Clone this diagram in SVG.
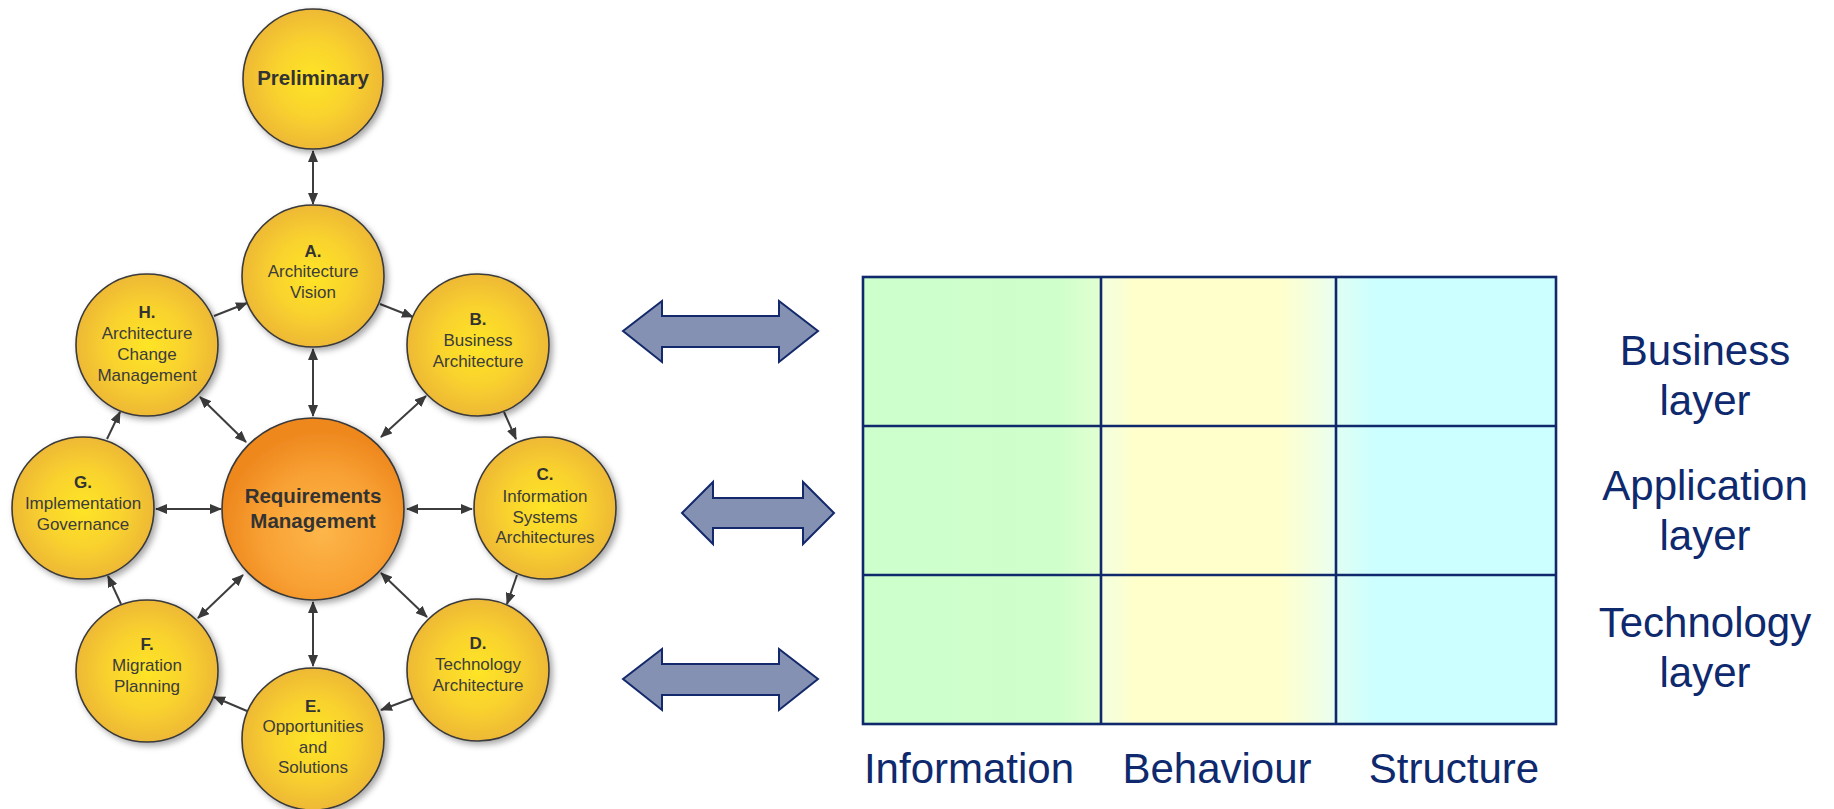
<svg xmlns="http://www.w3.org/2000/svg" width="1834" height="809" viewBox="0 0 1834 809">
<defs>
<style>
.ph{stroke:#3a3a3a;stroke-width:1.6;filter:url(#sh)}
.y{fill:url(#yg)}
.t{font-family:"Liberation Sans",Arial,sans-serif;font-size:17px;fill:#3c3c3c;text-anchor:middle}
.b{font-weight:bold;fill:#333}
.big{font-family:"Liberation Sans",Arial,sans-serif;font-size:20.5px;font-weight:bold;fill:#333;text-anchor:middle}
.c{stroke:#3d3d3d;stroke-width:2;fill:none}
.d{marker-start:url(#ah);marker-end:url(#ah)}
.s{marker-end:url(#ah)}
.ba{fill:#8591B2;stroke:#13296B;stroke-width:2;stroke-linejoin:miter}
.gl{stroke:#10296C;stroke-width:2.6;fill:none}
.lab{font-family:"Liberation Sans",Arial,sans-serif;font-size:42px;fill:#0E296D;text-anchor:middle}
</style>
<radialGradient id="yg" cx="50%" cy="50%" r="50%">
<stop offset="0" stop-color="#FEE526"/>
<stop offset="0.55" stop-color="#F9D22E"/>
<stop offset="1" stop-color="#EEB935"/>
</radialGradient>
<radialGradient id="og" cx="55%" cy="62%" r="55%">
<stop offset="0" stop-color="#FDB64A"/>
<stop offset="0.6" stop-color="#F8A033"/>
<stop offset="1" stop-color="#EE881E"/>
</radialGradient>
<filter id="sh" x="-20%" y="-20%" width="150%" height="150%">
<feDropShadow dx="3" dy="3" stdDeviation="3" flood-color="#000" flood-opacity="0.35"/>
</filter>
<marker id="ah" viewBox="0 0 12 10" refX="11" refY="5" markerWidth="12" markerHeight="10" markerUnits="userSpaceOnUse" orient="auto-start-reverse">
<path d="M0,0 L12,5 L0,10 z" fill="#3a3a3a"/>
</marker>
<linearGradient id="g1" x1="863" y1="0" x2="1101" y2="0" gradientUnits="userSpaceOnUse">
<stop offset="0" stop-color="#CCFFCC"/>
<stop offset="0.82" stop-color="#CFFFCB"/>
<stop offset="1" stop-color="#E2FFD2"/>
</linearGradient>
<linearGradient id="g2" x1="1101" y1="0" x2="1336" y2="0" gradientUnits="userSpaceOnUse">
<stop offset="0" stop-color="#F2FFE0"/>
<stop offset="0.14" stop-color="#FFFFCC"/>
<stop offset="0.76" stop-color="#FFFFCC"/>
<stop offset="1" stop-color="#EAFFF0"/>
</linearGradient>
<linearGradient id="g3" x1="1336" y1="0" x2="1556" y2="0" gradientUnits="userSpaceOnUse">
<stop offset="0" stop-color="#E0FFF2"/>
<stop offset="0.18" stop-color="#CCFFFF"/>
<stop offset="1" stop-color="#CCFFFF"/>
</linearGradient>
</defs>
<rect width="1834" height="809" fill="#FFFFFF"/>

<g id="connectors">
<line class="c d" x1="313" y1="151" x2="313" y2="204"/>
<line class="c d" x1="313" y1="349" x2="313" y2="416"/>
<line class="c d" x1="313" y1="602" x2="313" y2="666"/>
<line class="c d" x1="156" y1="509" x2="221" y2="509"/>
<line class="c d" x1="407" y1="509" x2="472" y2="509"/>
<line class="c d" x1="381" y1="437" x2="426" y2="396"/>
<line class="c d" x1="246" y1="442" x2="200" y2="397"/>
<line class="c d" x1="243" y1="575" x2="198" y2="618"/>
<line class="c d" x1="381" y1="573" x2="427" y2="617"/>
<line class="c s" x1="214" y1="316" x2="247" y2="303"/>
<line class="c s" x1="380" y1="304" x2="413" y2="317"/>
<line class="c s" x1="504" y1="412" x2="516" y2="439"/>
<line class="c s" x1="517" y1="575" x2="507" y2="604"/>
<line class="c s" x1="413" y1="698" x2="381" y2="710"/>
<line class="c s" x1="247" y1="711" x2="214" y2="697"/>
<line class="c s" x1="121" y1="604" x2="108" y2="576"/>
<line class="c s" x1="107" y1="439" x2="120" y2="412"/>
</g>

<g id="preliminary">
<circle class="ph y" cx="313" cy="79" r="70"/>
<text class="big" x="313" y="85">Preliminary</text>
</g>
<g id="node-a">
<circle class="ph y" cx="313" cy="276" r="71"/>
<text class="t b" x="313" y="257">A.</text>
<text class="t" x="313" y="277">Architecture</text>
<text class="t" x="313" y="298">Vision</text>
</g>
<g id="node-b">
<circle class="ph y" cx="478" cy="345" r="71"/>
<text class="t b" x="478" y="325">B.</text>
<text class="t" x="478" y="346">Business</text>
<text class="t" x="478" y="367">Architecture</text>
</g>
<g id="node-c">
<circle class="ph y" cx="545" cy="508" r="71"/>
<text class="t b" x="545" y="480">C.</text>
<text class="t" x="545" y="502">Information</text>
<text class="t" x="545" y="523">Systems</text>
<text class="t" x="545" y="543">Architectures</text>
</g>
<g id="node-d">
<circle class="ph y" cx="478" cy="670" r="71"/>
<text class="t b" x="478" y="649">D.</text>
<text class="t" x="478" y="670">Technology</text>
<text class="t" x="478" y="691">Architecture</text>
</g>
<g id="node-e">
<circle class="ph y" cx="313" cy="739" r="71"/>
<text class="t b" x="313" y="712">E.</text>
<text class="t" x="313" y="732">Opportunities</text>
<text class="t" x="313" y="753">and</text>
<text class="t" x="313" y="773">Solutions</text>
</g>
<g id="node-f">
<circle class="ph y" cx="147" cy="671" r="71"/>
<text class="t b" x="147" y="650">F.</text>
<text class="t" x="147" y="671">Migration</text>
<text class="t" x="147" y="692">Planning</text>
</g>
<g id="node-g">
<circle class="ph y" cx="83" cy="508" r="71"/>
<text class="t b" x="83" y="488">G.</text>
<text class="t" x="83" y="509">Implementation</text>
<text class="t" x="83" y="530">Governance</text>
</g>
<g id="node-h">
<circle class="ph y" cx="147" cy="345" r="71"/>
<text class="t b" x="147" y="318">H.</text>
<text class="t" x="147" y="339">Architecture</text>
<text class="t" x="147" y="360">Change</text>
<text class="t" x="147" y="381">Management</text>
</g>
<g id="requirements">
<circle class="ph" fill="url(#og)" cx="313" cy="509" r="91"/>
<text class="big" x="313" y="503">Requirements</text>
<text class="big" x="313" y="528">Management</text>
</g>

<g id="block-arrows">
<polygon class="ba" points="623,331 662,301 662,316 779,316 779,301 818,331 779,362 779,347 662,347 662,362"/>
<polygon class="ba" points="682,513 713,482 713,498 803,498 803,482 834,513 803,544 803,528 713,528 713,544"/>
<polygon class="ba" points="623,679 662,649 662,664 779,664 779,649 818,679 779,710 779,695 662,695 662,710"/>
</g>

<g id="grid">
<rect x="863" y="277" width="238" height="447" fill="url(#g1)"/>
<rect x="1101" y="277" width="235" height="447" fill="url(#g2)"/>
<rect x="1336" y="277" width="220" height="447" fill="url(#g3)"/>
<rect class="gl" x="863" y="277" width="693" height="447"/>
<line class="gl" x1="1101" y1="277" x2="1101" y2="724"/>
<line class="gl" x1="1336" y1="277" x2="1336" y2="724"/>
<line class="gl" x1="863" y1="426" x2="1556" y2="426"/>
<line class="gl" x1="863" y1="575" x2="1556" y2="575"/>
</g>

<g id="labels">
<text class="lab" x="1705" y="365">Business</text>
<text class="lab" x="1705" y="415">layer</text>
<text class="lab" x="1705" y="500">Application</text>
<text class="lab" x="1705" y="550">layer</text>
<text class="lab" x="1705" y="637">Technology</text>
<text class="lab" x="1705" y="687">layer</text>
<text class="lab" x="969" y="783">Information</text>
<text class="lab" x="1217" y="783">Behaviour</text>
<text class="lab" x="1454" y="783">Structure</text>
</g>
</svg>
